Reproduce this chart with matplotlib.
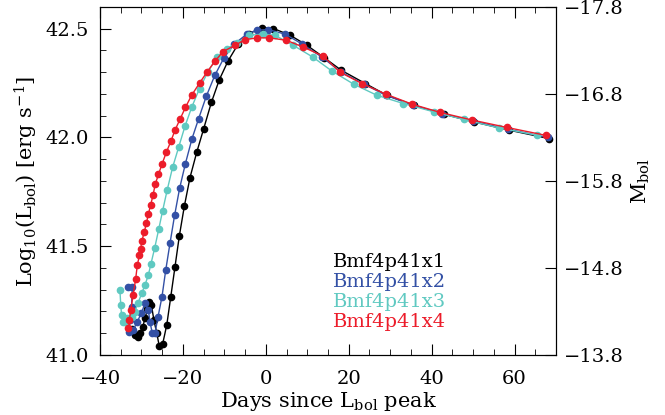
import matplotlib
matplotlib.use('Agg')
import matplotlib.pyplot as plt
from matplotlib.ticker import MultipleLocator, FuncFormatter

plt.rcParams['font.family'] = ['DejaVu Serif']
plt.rcParams['mathtext.fontset'] = 'dejavuserif'

# Bolometric light curves (days since peak, log10 L_bol)
x1_days = [-32.2, -31.6, -30.9, -30.3, -29.7, -29.1, -28.6, -28.1, -27.6, -27.0, -26.3, -25.7, -24.9, -23.9,
           -22.95, -21.91, -20.87, -19.66, -18.29, -16.67, -14.98, -13.14, -11.21, -9.11, -6.69, -4.03, -0.82,
           1.84, 5.87, 9.9, 14.08, 18.2, 24.0, 29.2, 35.7, 42.9, 50.1, 58.6, 68.3]
x1_logl = [41.12, 41.09, 41.085, 41.10, 41.13, 41.17, 41.21, 41.245, 41.23, 41.16, 41.10, 41.04, 41.05, 41.138,
           41.265, 41.406, 41.547, 41.684, 41.816, 41.932, 42.041, 42.161, 42.266, 42.352, 42.429, 42.478, 42.505,
           42.501, 42.47, 42.424, 42.367, 42.309, 42.248, 42.194, 42.148, 42.107, 42.072, 42.034, 41.995]

x2_days = [-33.3, -32.2, -32.4, -32.8, -32.9, -32.0, -31.0, -30.05, -29.15, -28.35, -27.95, -27.4, -26.74, -26.0,
           -25.05, -24.15, -23.1, -22.0, -20.8, -19.4, -17.8, -16.2, -14.35, -12.3, -10.1, -7.65, -4.6, -2.2, 0.6,
           4.66, 8.7, 13.5, 18.2, 23.7, 29.1, 35.5, 42.5, 50.0, 58.4, 68.0]
x2_logl = [41.314, 41.314, 41.222, 41.161, 41.107, 41.115, 41.153, 41.192, 41.237, 41.207, 41.153, 41.10, 41.10,
           41.176, 41.268, 41.39, 41.516, 41.643, 41.766, 41.88, 41.995, 42.087, 42.19, 42.286, 42.366, 42.429,
           42.475, 42.493, 42.496, 42.475, 42.43, 42.37, 42.30, 42.245, 42.193, 42.148, 42.11, 42.075, 42.038, 42.0]

x3_days = [-35.2, -35.0, -34.8, -34.5, -34.0, -33.4, -32.4, -31.6, -30.8, -29.95, -29.15, -28.35, -27.7, -26.8,
           -25.85, -24.9, -23.8, -22.5, -21.0, -19.5, -17.9, -16.0, -14.0, -11.8, -9.4, -6.9, -4.0, -0.6, 2.2,
           6.5, 11.3, 15.9, 21.2, 26.8, 33.2, 40.5, 47.7, 56.2, 65.5]
x3_logl = [41.299, 41.23, 41.184, 41.153, 41.153, 41.168, 41.176, 41.199, 41.24, 41.283, 41.322, 41.367, 41.42,
           41.493, 41.577, 41.663, 41.758, 41.862, 41.957, 42.052, 42.138, 42.225, 42.30, 42.37, 42.409, 42.435,
           42.47, 42.475, 42.47, 42.425, 42.37, 42.306, 42.245, 42.194, 42.156, 42.118, 42.083, 42.044, 42.01]

x4_days = [-33.15, -32.9, -32.6, -32.0, -31.4, -31.0, -30.5, -30.2, -29.9, -29.3, -28.8, -28.35, -27.8, -27.2,
           -26.7, -25.9, -25.0, -24.0, -22.9, -21.9, -20.7, -19.4, -17.9, -16.0, -14.1, -12.3, -10.3, -7.42, -5.0,
           -2.03, 0.87, 4.9, 9.0, 13.9, 17.9, 23.2, 29.1, 35.3, 42.1, 49.8, 58.2, 67.5]
x4_logl = [41.123, 41.161, 41.207, 41.276, 41.35, 41.413, 41.458, 41.488, 41.525, 41.566, 41.608, 41.646, 41.689,
           41.735, 41.784, 41.83, 41.88, 41.932, 41.983, 42.034, 42.084, 42.138, 42.194, 42.25, 42.303, 42.35,
           42.395, 42.424, 42.45, 42.458, 42.458, 42.447, 42.416, 42.373, 42.30, 42.248, 42.198, 42.153, 42.115,
           42.08, 42.046, 42.01]

names = ['Bmf4p41x1', 'Bmf4p41x2', 'Bmf4p41x3', 'Bmf4p41x4']
colors = ['black', '#3350a5', '#5fc9c1', '#ec1c2a']
series = [(x1_days, x1_logl), (x2_days, x2_logl), (x3_days, x3_logl), (x4_days, x4_logl)]

mbol_ticks = [-17.8, -16.8, -15.8, -14.8, -13.8]


def minus_fmt(v, pos):
    return ('%.1f' % v).replace('-', '\u2212')


def int_fmt(v, pos):
    return ('%d' % round(v)).replace('-', '\u2212')


fig = plt.figure(figsize=(6.65, 4.15), dpi=100)
ax = fig.add_axes([0.1504, 0.1446, 0.6857, 0.8386])

for (xd, yd), c in zip(series, colors):
    ax.plot(xd, yd, '-o', color=c, lw=1.0, ms=4.5, mec=c, mfc=c)

ax.set_xlim(-40, 70)
ax.set_ylim(41.0, 42.6)
ax.xaxis.set_major_locator(MultipleLocator(20))
ax.xaxis.set_minor_locator(MultipleLocator(5))
ax.xaxis.set_major_formatter(FuncFormatter(int_fmt))
ax.yaxis.set_major_locator(MultipleLocator(0.5))
ax.yaxis.set_minor_locator(MultipleLocator(0.1))
ax.yaxis.set_major_formatter(FuncFormatter(minus_fmt))
ax.tick_params(which='both', direction='in', top=True, right=False, labelsize=14)
ax.tick_params(which='major', length=8)
ax.tick_params(which='minor', length=4)
ax.tick_params(axis='x', which='major', pad=11)
ax.tick_params(axis='y', which='major', pad=8)
ax.set_xlabel(r'Days since L$_{\rm bol}$ peak', fontsize=15, labelpad=1)
ax.set_ylabel(r'Log$_{10}$(L$_{\rm bol}$) [erg s$^{-1}$]', fontsize=15, labelpad=4)

# right axis: absolute bolometric magnitude
ax2 = ax.twinx()
ax2.set_ylim(-13.8, -17.8)
ax2.set_yticks(mbol_ticks)
ax2.yaxis.set_major_formatter(FuncFormatter(minus_fmt))
ax2.tick_params(direction='in', length=8, labelsize=14, pad=6)
ax2.set_ylabel(r'M$_{\rm bol}$', fontsize=15, labelpad=4)

for i, (n, c) in enumerate(zip(names, colors)):
    ax.text(0.759, 0.267 - i * 0.0575, n, color=c, fontsize=14,
            ha='right', va='center', transform=ax.transAxes)

fig.savefig('out.png', dpi=100)
